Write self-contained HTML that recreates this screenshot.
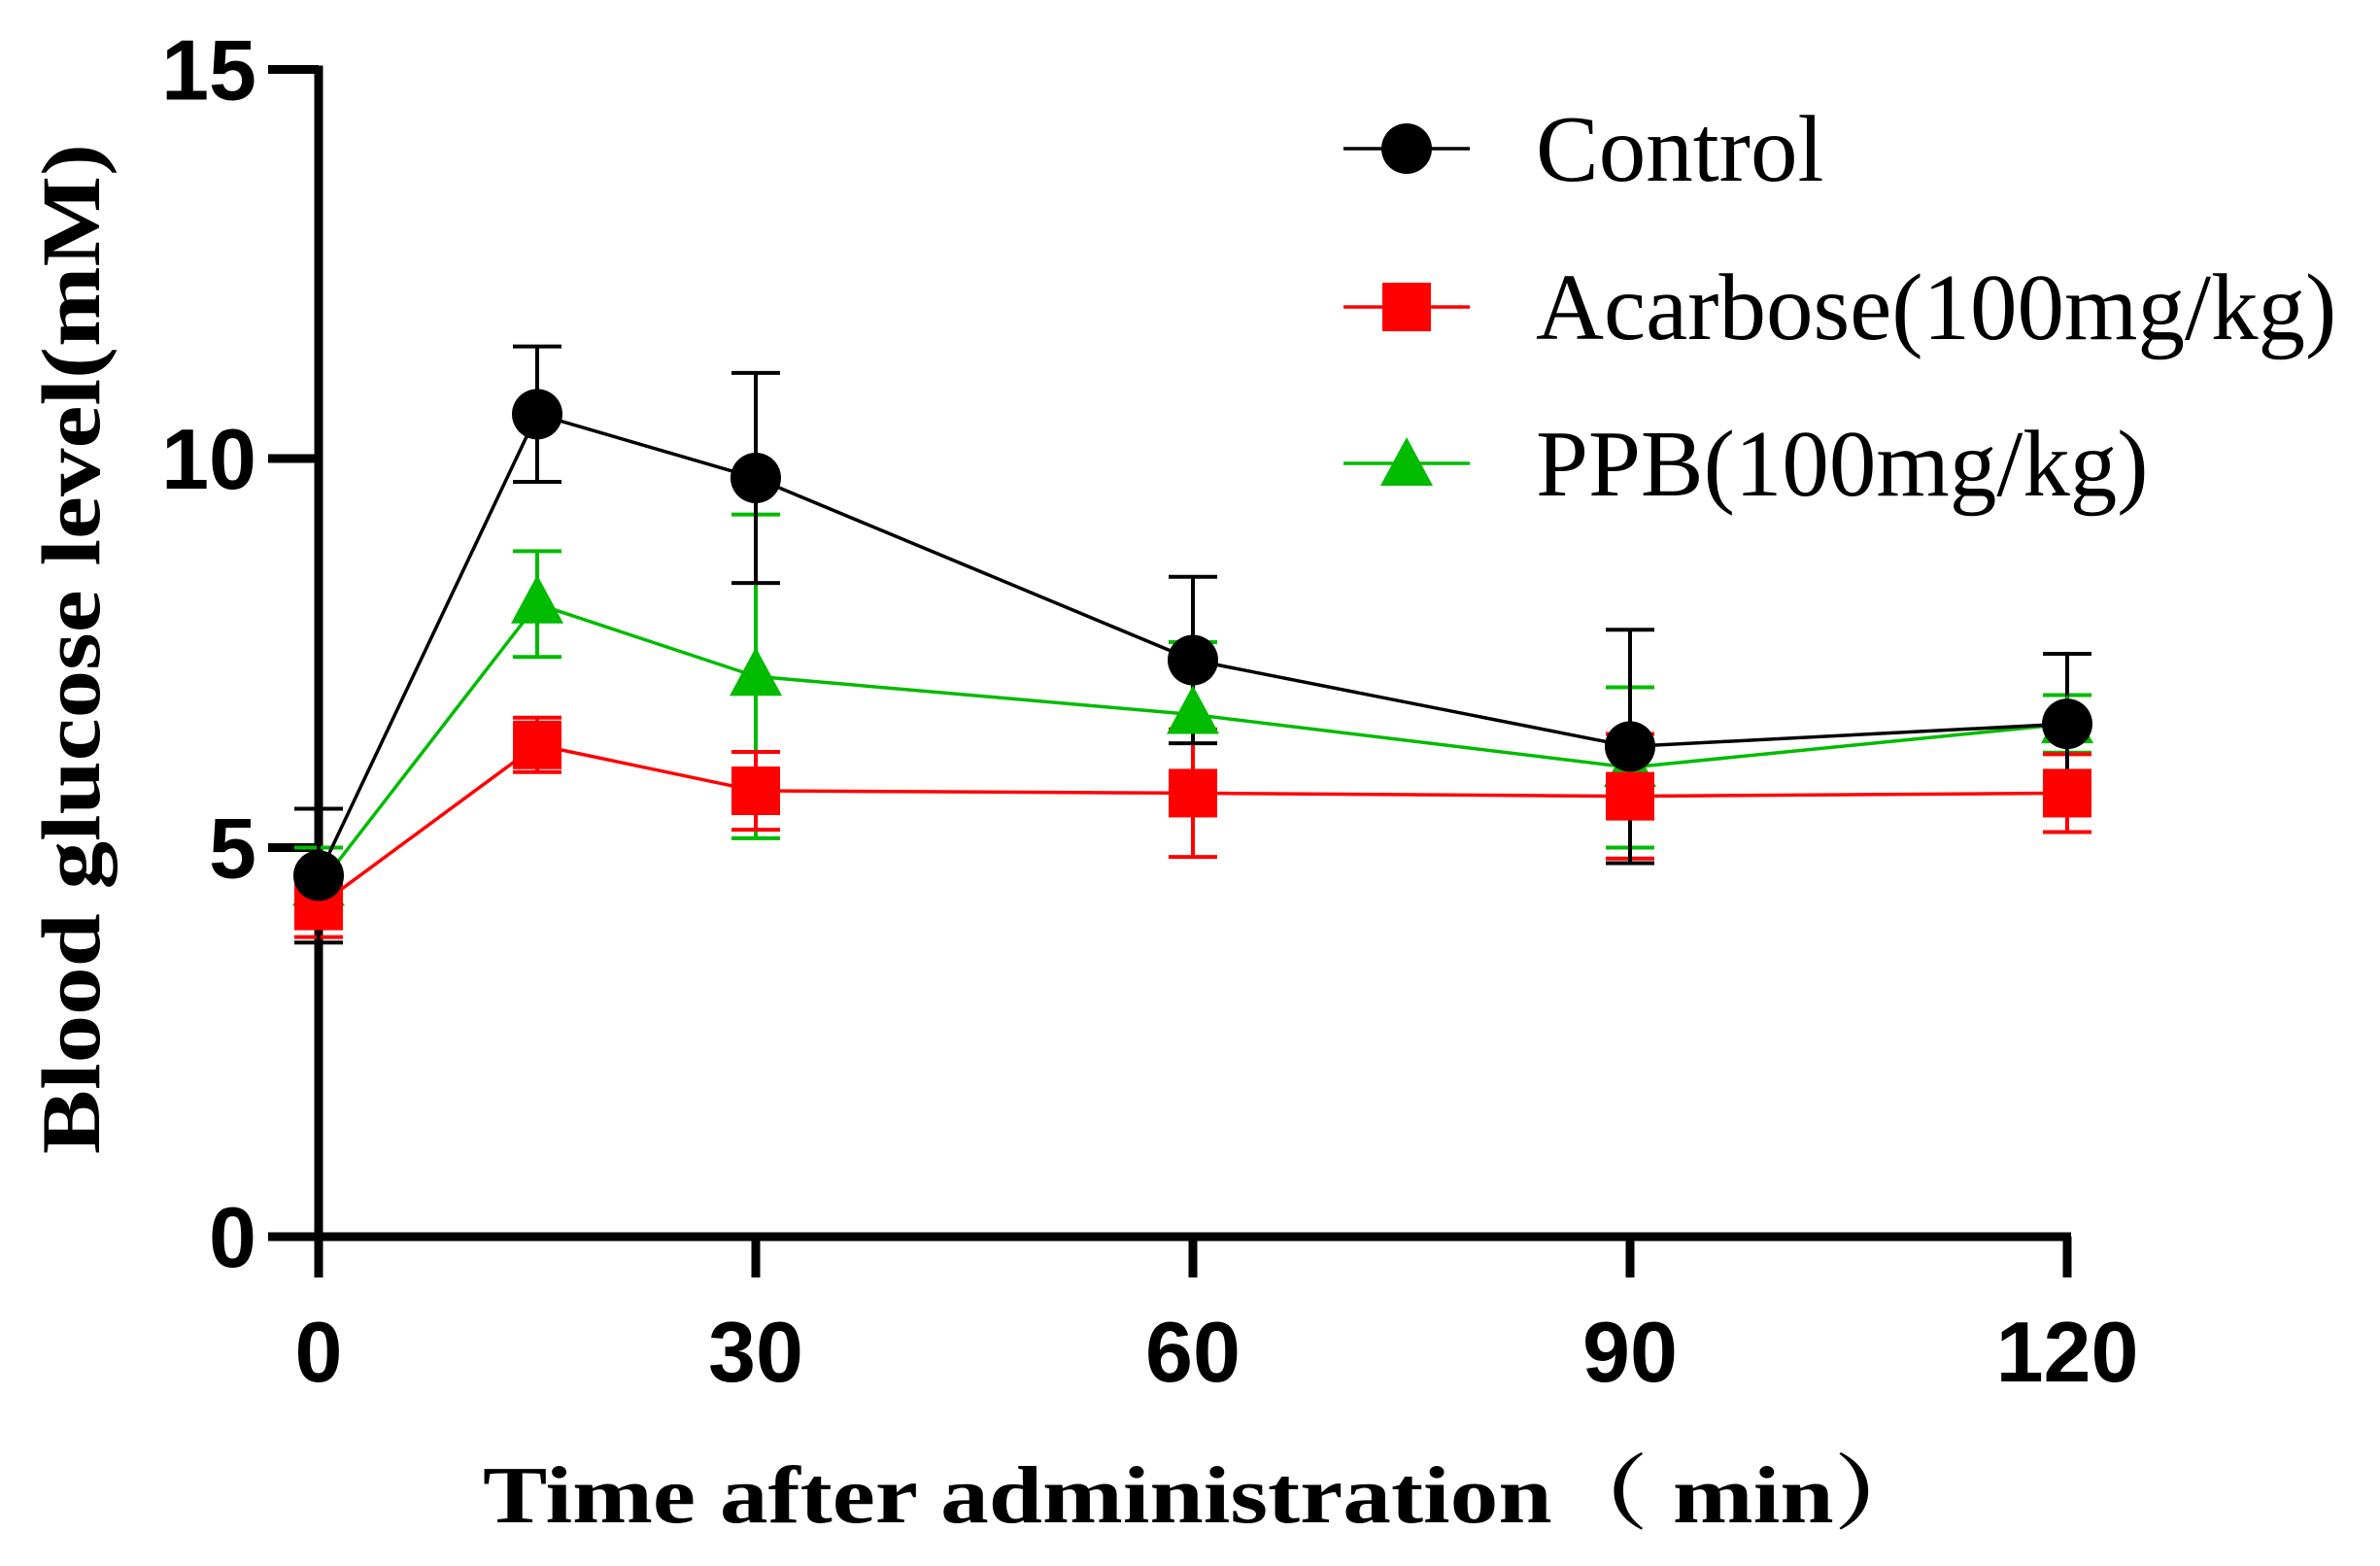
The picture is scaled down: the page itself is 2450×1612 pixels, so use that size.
<!DOCTYPE html>
<html><head><meta charset="utf-8"><style>html,body{margin:0;padding:0;background:#fff}svg{display:block}</style></head>
<body>
<svg id="chart" width="2450" height="1612" viewBox="0 0 2450 1612" xmlns="http://www.w3.org/2000/svg">
<g id="axes"></g>
<g id="errs"></g>
<g id="lines"></g>
<g id="marks"></g>
<text transform="translate(102,668) rotate(-90)" text-anchor="middle" font-family="Liberation Serif, serif" font-weight="bold" font-size="86" textLength="1040" lengthAdjust="spacingAndGlyphs">Blood glucose level(mM)</text>
<text x="497" y="1567" font-family="Liberation Serif, 'Noto Serif CJK SC', serif" font-weight="bold" font-size="84" textLength="1490" lengthAdjust="spacingAndGlyphs">Time after administration（ min）</text>
<g id="legend"></g>
</svg>
<script>
const times = [0, 15, 30, 60, 90, 120];
const controlMean = [4.64, 10.57, 9.75, 7.41, 6.30, 6.59];
const controlErr = [0.86, 0.87, 1.35, 1.07, 1.50, 0.90];
const acarboseMean = [4.25, 6.32, 5.73, 5.70, 5.66, 5.70];
const acarboseErr = [0.40, 0.35, 0.50, 0.82, 0.80, 0.50];
const ppbMean = [4.50, 8.13, 7.20, 6.71, 6.03, 6.59];
const ppbErr = [0.50, 0.68, 2.08, 0.93, 1.03, 0.37];
const xTicks = [0, 30, 60, 90, 120];
const yTicks = [0, 5, 10, 15];
const seriesNames = ["Control", "Acarbose(100mg/kg)", "PPB(100mg/kg)"];

const NS = "http://www.w3.org/2000/svg";
const X0 = 328, XPER = 15.0, Y0 = 1273, YPER = 80.1;
const sx = v => X0 + v * XPER;
const sy = v => Y0 - v * YPER;
function mk(tag, attrs, parent) {
  const e = document.createElementNS(NS, tag);
  for (const k in attrs) e.setAttribute(k, attrs[k]);
  parent.appendChild(e);
  return e;
}
const axes = document.getElementById('axes');
let e = mk('line', {x1: X0, y1: sy(15) - 4, x2: X0, y2: Y0 + 42, stroke: '#000', 'stroke-width': 9}, axes);


e = mk('line', {x1: X0 - 4, y1: Y0, x2: sx(120) + 4, y2: Y0, stroke: '#000', 'stroke-width': 9}, axes);


yTicks.forEach(t => {
  const tk = mk('line', {x1: X0 - 52, y1: sy(t), x2: X0, y2: sy(t), stroke: '#000', 'stroke-width': 9}, axes);
  
  
  const lb = mk('text', {x: X0 - 64, y: sy(t) + 31, 'text-anchor': 'end', 'font-family': 'Liberation Sans, sans-serif', 'font-weight': 'bold', 'font-size': 88}, axes);
  lb.textContent = t;
  
  
});
xTicks.forEach(t => {
  const tk = mk('line', {x1: sx(t), y1: Y0, x2: sx(t), y2: Y0 + 42, stroke: '#000', 'stroke-width': 9}, axes);
  
  
  const lb = mk('text', {x: sx(t), y: 1422, 'text-anchor': 'middle', 'font-family': 'Liberation Sans, sans-serif', 'font-weight': 'bold', 'font-size': 88}, axes);
  lb.textContent = t;
  
  
});
const series = [
  {name: 'control', mean: controlMean, err: controlErr, color: '#000', shape: 'circle'},
  {name: 'acarbose', mean: acarboseMean, err: acarboseErr, color: '#ff0000', shape: 'square'},
  {name: 'ppb', mean: ppbMean, err: ppbErr, color: '#00bb00', shape: 'triangle'}
];
const errs = document.getElementById('errs'), lines = document.getElementById('lines'), marks = document.getElementById('marks');
function marker(shape, cx, cy, color, parent) {
  let m;
  if (shape === 'circle') m = mk('circle', {cx: cx, cy: cy, r: 26, fill: color}, parent);
  else if (shape === 'square') m = mk('rect', {x: cx - 25, y: cy - 25, width: 50, height: 50, fill: color}, parent);
  else m = mk('polygon', {points: `${cx},${cy - 30} ${cx + 27},${cy + 20} ${cx - 27},${cy + 20}`, fill: color}, parent);
  return m;
}
[2, 1, 0].forEach(si => {
  const s = series[si];
  times.forEach((t, i) => {
    const x = sx(t), yt = sy(s.mean[i] + s.err[i]), yb = sy(s.mean[i] - s.err[i]);
    const g = mk('path', {d: `M${x},${yt}V${yb}M${x - 25},${yt}H${x + 25}M${x - 25},${yb}H${x + 25}`, stroke: s.color, 'stroke-width': 4, fill: 'none'}, errs);
    
    
  });
  const pl = mk('polyline', {points: times.map((t, i) => sx(t) + ',' + sy(s.mean[i])).join(' '), stroke: s.color, 'stroke-width': 3.5, fill: 'none'}, lines);
  
  
});
[2, 1, 0].forEach(si => {
  const s = series[si];
  times.forEach((t, i) => {
    const m = marker(s.shape, sx(t), sy(s.mean[i]), s.color, marks);
    
    
  });
});
const legend = document.getElementById('legend');
const legY = [153, 316, 477];
series.forEach((s, i) => {
  const g = mk('g', {}, legend);
  
  
  mk('line', {x1: 1383, y1: legY[i], x2: 1513, y2: legY[i], stroke: s.color, 'stroke-width': 3.5}, g);
  marker(s.shape, 1448, legY[i] + (s.shape === 'triangle' ? 3 : 0), s.color, g);
  const tx = mk('text', {x: 1581, y: legY[i] + 33, 'font-family': 'Liberation Serif, serif', 'font-size': 97}, g);
  tx.textContent = seriesNames[i];
});
</script>
</body></html>
